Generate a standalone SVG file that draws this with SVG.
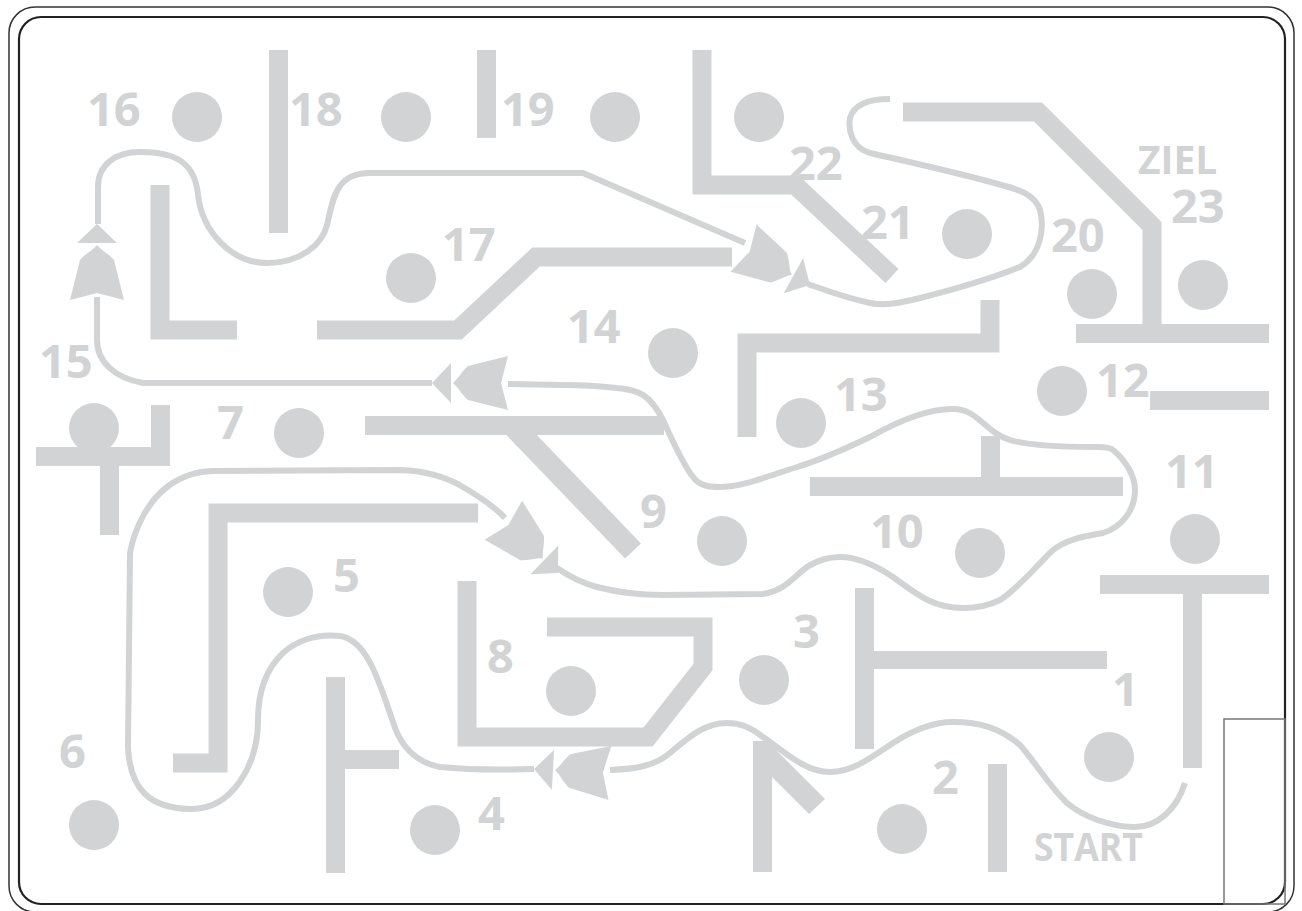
<svg xmlns="http://www.w3.org/2000/svg" width="1302" height="911" viewBox="0 0 1302 911">
<style>
.w{fill:none;stroke:#d1d3d4;stroke-width:19;stroke-linejoin:miter;stroke-miterlimit:10}
.r{fill:#d1d3d4}
.c{fill:#d1d3d4}
.p{fill:none;stroke:#d1d3d4;stroke-width:6;stroke-linecap:butt;stroke-linejoin:round}
.t{fill:#d1d3d4;font-family:"Open Sans","Liberation Sans",sans-serif;font-weight:700;font-size:47px}
.s{font-size:39px}
</style>
<defs>
<path id="arr" d="M0,0 L-19,-20 L-19,20 Z M-21,0 C-26,-4 -30,-12 -36,-17 L-76,-27 L-69,0 L-76,27 L-36,17 C-30,12 -26,4 -21,0 Z" fill="#d1d3d4"/>
</defs>
<rect width="1302" height="911" fill="#fff"/>
<g id="frame">
<rect x="9" y="7" width="1285" height="905" rx="26" fill="none" stroke="#333" stroke-width="1.5"/>
<rect x="19" y="17" width="1266" height="887" rx="22" fill="none" stroke="#222" stroke-width="2.2"/>
<rect x="1224" y="719" width="61" height="185" fill="none" stroke="#777" stroke-width="1.5"/>
</g>
<g id="walls">
<rect class="r" x="269" y="50" width="19" height="183"/>
<rect class="r" x="477" y="50" width="19" height="88"/>
<path class="w" d="M702,50 V185 H795 L892,276"/>
<path class="w" d="M903,112 H1038 L1152,226 V325"/>
<rect class="r" x="1076" y="324" width="193" height="19"/>
<path class="w" d="M317,330 H458 L536,257 H732"/>
<path class="w" d="M160,185 V330 H237"/>
<rect class="r" x="36" y="447" width="134" height="19"/>
<rect class="r" x="100" y="466" width="19" height="69"/>
<rect class="r" x="151" y="405" width="19" height="61"/>
<rect class="r" x="365" y="416" width="299" height="19"/>
<path class="w" style="stroke-width:22" d="M513,426 L633,551"/>
<path class="w" d="M478,513 H218 V763 H173"/>
<rect class="r" x="326" y="677" width="19" height="196"/>
<rect class="r" x="345" y="750" width="54" height="19"/>
<path class="w" d="M467,581 V737 H648 L703,667 V627 H547"/>
<rect class="r" x="855" y="588" width="19" height="161"/>
<rect class="r" x="874" y="651" width="233" height="18"/>
<polygon class="r" points="753,741 767,741 825,799 809,814 772,777 772,872 753,872"/>
<rect class="r" x="988" y="764" width="19" height="108"/>
<rect class="r" x="1100" y="575" width="169" height="19"/>
<rect class="r" x="1183" y="594" width="19" height="174"/>
<rect class="r" x="1150" y="391" width="119" height="19"/>
<rect class="r" x="810" y="477" width="313" height="19"/>
<rect class="r" x="981" y="436" width="19" height="41"/>
<path class="w" d="M747,437 V343 H990 V300"/>
</g>
<g id="holes">
<circle class="c" cx="197" cy="117" r="25"/>
<circle class="c" cx="406" cy="117" r="25"/>
<circle class="c" cx="615" cy="117" r="25"/>
<circle class="c" cx="759" cy="117" r="25"/>
<circle class="c" cx="411" cy="278" r="25"/>
<circle class="c" cx="967" cy="234" r="25"/>
<circle class="c" cx="1092" cy="294" r="25"/>
<circle class="c" cx="1203" cy="285" r="25"/>
<circle class="c" cx="673" cy="353" r="25"/>
<circle class="c" cx="801" cy="423" r="25"/>
<circle class="c" cx="1062" cy="391" r="25"/>
<circle class="c" cx="94" cy="428" r="25"/>
<circle class="c" cx="299" cy="433" r="25"/>
<circle class="c" cx="288" cy="592" r="25"/>
<circle class="c" cx="722" cy="541" r="25"/>
<circle class="c" cx="980" cy="553" r="25"/>
<circle class="c" cx="1195" cy="539" r="25"/>
<circle class="c" cx="571" cy="691" r="25"/>
<circle class="c" cx="764" cy="680" r="25"/>
<circle class="c" cx="94" cy="825" r="25"/>
<circle class="c" cx="435" cy="830" r="25"/>
<circle class="c" cx="902" cy="829" r="25"/>
<circle class="c" cx="1109" cy="757" r="25"/>
</g>
<g id="labels">
<text class="t" x="87" y="126">16</text>
<text class="t" x="289" y="126">18</text>
<text class="t" x="501" y="126">19</text>
<text class="t" x="789" y="180">22</text>
<text class="t" x="861" y="239">21</text>
<text class="t" x="1051" y="252">20</text>
<text class="t s" x="1138" y="174">ZIEL</text>
<text class="t" x="1171" y="223">23</text>
<text class="t" x="442" y="261">17</text>
<text class="t" x="567" y="343">14</text>
<text class="t" x="39" y="378">15</text>
<text class="t" x="834" y="411">13</text>
<text class="t" x="1096" y="397">12</text>
<text class="t" x="217" y="439">7</text>
<text class="t" x="1165" y="488">11</text>
<text class="t" x="640" y="528">9</text>
<text class="t" x="870" y="548">10</text>
<text class="t" x="333" y="592">5</text>
<text class="t" x="793" y="648">3</text>
<text class="t" x="487" y="673">8</text>
<text class="t" x="1112" y="706">1</text>
<text class="t" x="59" y="768">6</text>
<text class="t" x="932" y="794">2</text>
<text class="t" x="478" y="830">4</text>
<text class="t s" x="1034" y="861" textLength="109" lengthAdjust="spacingAndGlyphs">START</text>
</g>
<g id="connectors">
<path class="p" d="M1185,783 C1177,808 1158,828 1133,827 C1110,826 1085,818 1067,803 C1050,787 1035,762 1020,745 C1000,728 980,722 953,722 C930,722 910,732 893,743 C865,762 850,772 830,772 C805,772 785,752 763,737 C750,727 740,723 727,723 C705,723 690,736 670,753 C655,766 635,769 610,770"/>
<path class="p" d="M534,769 C500,770 460,769 440,767 C415,762 400,745 393,722 C380,685 368,640 340,636 C315,633 295,642 283,653 C265,670 258,695 258,720 C258,765 232,810 190,809 C150,808 130,790 128,747 L130,553 C135,525 150,500 167,487 C180,477 195,471 215,471 L400,470 C430,471 448,478 463,487 C480,497 495,507 505,518"/>
<path class="p" d="M557,568 C570,577 582,583 597,587 C620,593 640,595 663,595 L763,594 C785,590 790,580 807,567 C818,560 828,557 840,557 C860,557 878,567 893,577 C920,597 935,608 963,608 C978,608 990,605 1000,600 C1020,587 1040,562 1053,550 C1068,538 1088,536 1103,533 C1122,527 1135,510 1135,490 C1135,475 1125,460 1113,450 C1108,446 1100,447 1093,447 C1060,447 1030,446 1010,440 C985,432 978,410 955,409 C930,408 900,420 870,437 C845,449 820,460 797,467 C760,479 740,487 720,487 C705,487 698,484 693,477 C685,467 672,440 663,420 C650,395 640,390 617,388 C600,386 580,385 563,385 L508,384"/>
<path class="p" d="M432,383 L143,383 C115,378 97,362 97,340 L97,297"/>
<path class="p" d="M98,224 L98,187 C98,165 115,152 140,152 C175,152 195,162 198,195 C202,230 230,263 267,263 C300,263 322,245 327,225 C333,200 335,173 370,173 L583,173 L745,243"/>
<path class="p" d="M808,284 C830,292 843,297 870,303 C885,306 900,303 920,298 C960,288 1000,275 1020,267 C1040,255 1045,230 1040,210 C1035,195 1020,190 1005,186 C960,173 900,160 870,153 C852,148 848,130 850,118 C854,104 870,99 890,99"/>
<use href="#arr" transform="translate(97,224) rotate(-90)"/>
<use href="#arr" transform="translate(432,383) rotate(180)"/>
<use href="#arr" transform="translate(534,769) rotate(183)"/>
<use href="#arr" transform="translate(558,573) rotate(44)"/>
<use href="#arr" transform="translate(810,285) rotate(29)"/>
</g>
</svg>
